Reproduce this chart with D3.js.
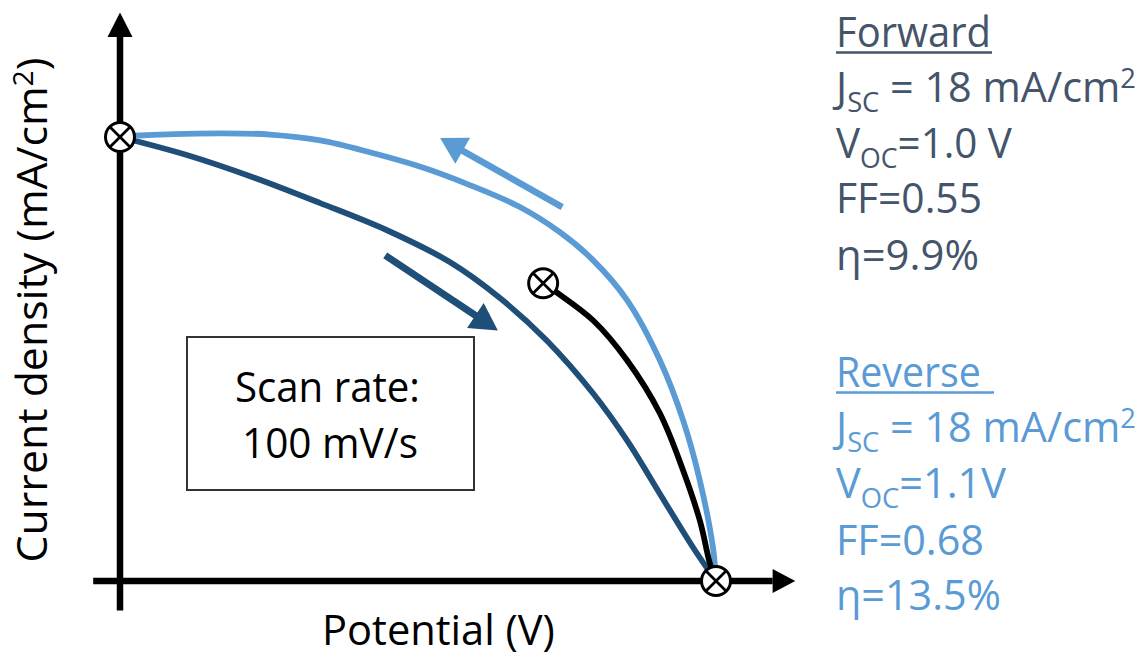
<!DOCTYPE html>
<html><head><meta charset="utf-8">
<script src="https://cdn.jsdelivr.net/npm/d3@7"></script>
<style>html,body{margin:0;padding:0;background:#fff;} svg{display:block}</style>
</head><body>
<svg id="c" width="1148" height="657"></svg>
<script>
// ---------------- data (potential in V, normalized; current density in mA/cm2) -------------
const reverseV = [0, 0.022, 0.168, 0.252, 0.336, 0.419, 0.503, 0.587, 0.671, 0.738, 0.794, 0.851, 0.906, 0.945, 0.973, 0.995, 1.0];
const reverseJ = [18.0, 18.05, 18.15, 18.1, 17.86, 17.38, 16.8, 16.05, 15.16, 14.14, 13.0, 11.38, 8.94, 6.5, 4.06, 1.34, 0];
const forwardV = [0, 0.112, 0.223, 0.336, 0.448, 0.554, 0.638, 0.716, 0.794, 0.851, 0.906, 0.961, 1.0];
const forwardJ = [18, 17.27, 16.37, 15.32, 14.22, 12.92, 11.46, 9.75, 7.6, 5.69, 3.53, 1.38, 0];
const blackV = [0.710, 0.735, 0.794, 0.851, 0.906, 0.945, 0.973, 0.990, 1.0];
const blackJ = [12.07, 11.66, 10.56, 8.94, 6.79, 4.47, 2.44, 0.69, 0];
const markerV = [0, 0.710, 1.0];
const markerJ = [18, 12.07, 0];
// scan-direction arrows: [tailV, tailJ, tipV, tipJ]
const forwardArrow = [0.445, 13.2, 0.634, 10.16];
const reverseArrow = [0.742, 15.16, 0.537, 17.96];

const xLabel = "Potential (V)";
const yLabel = "Current density (mA/cm^{2})";
const boxLines = ["Scan rate:", "100 mV/s"];
const forwardLines = ["Forward", "J_{SC} = 18 mA/cm^{2}", "V_{OC}=1.0 V", "FF=0.55", "η=9.9%"];
const reverseLines = ["Reverse", "J_{SC} = 18 mA/cm^{2}", "V_{OC}=1.1V", "FF=0.68", "η=13.5%"];

// ---------------- layout ----------------
const FONT = "'Open Sans','Noto Sans',sans-serif";
const FS = 41.5;
const C_FWD = "#1F4E79", C_REV = "#5B9BD5", C_FWD_TXT = "#44546A";
const forwardW = [155, 300, 176, 146, 143];
const reverseW = [145, 300, 170, 148, 165];
const forwardBase = [47, 102, 158, 213, 270];
const reverseBase = [387, 442, 498, 555, 610];

const svg = d3.select("#c");
const x = d3.scaleLinear().domain([0, 1]).range([120, 716]);
const y = d3.scaleLinear().domain([0, 18]).range([581, 137]);

function richText(parent, str, color, size) {
  const t = parent.append("text").attr("font-family", FONT).attr("font-size", size).attr("fill", color);
  const re = /([_^])\{([^}]*)\}/g;
  let last = 0, m, shift = 0;
  while ((m = re.exec(str))) {
    if (m.index > last) { t.append("tspan").attr("dy", -shift).text(str.slice(last, m.index)); shift = 0; }
    const d = m[1] === "_" ? 10 : -14;
    t.append("tspan").attr("font-size", size * 0.66).attr("dy", d - shift).text(m[2]);
    shift = d; last = re.lastIndex;
  }
  if (last < str.length) t.append("tspan").attr("dy", -shift).text(str.slice(last));
  return t;
}
function fitText(t, target, pre) {
  const w = t.node().getComputedTextLength();
  t.attr("transform", pre + ` scale(${target / w},1)`);
}

// ---------------- axes ----------------
const ax = svg.append("g").attr("stroke", "#000").attr("stroke-width", 6.5);
ax.append("line").attr("x1", x(0)).attr("x2", x(0)).attr("y1", y(-1.2)).attr("y2", y(22.2));
ax.append("line").attr("x1", x(-0.045)).attr("x2", x(1.095)).attr("y1", y(0)).attr("y2", y(0));
svg.append("path").attr("fill", "#000")
  .attr("d", `M${x(0)},${y(23.05)} L${x(0) - 12.5},${y(22.05)} L${x(0) + 12.5},${y(22.05)} Z`);
svg.append("path").attr("fill", "#000")
  .attr("d", `M${x(1.133)},${y(0)} L${x(1.095)},${y(0) - 12} L${x(1.095)},${y(0) + 12} Z`);

// ---------------- curves ----------------
const line = d3.line().x(d => x(d[0])).y(d => y(d[1])).curve(d3.curveCatmullRom.alpha(0.5));
function curve(V, J, color) {
  svg.append("path").datum(V.map((v, i) => [v, J[i]])).attr("d", line)
    .attr("fill", "none").attr("stroke", color).attr("stroke-width", 5.8).attr("stroke-linecap", "round");
}
curve(forwardV, forwardJ, C_FWD);
curve(reverseV, reverseJ, C_REV);
curve(blackV, blackJ, "#000");

// ---------------- arrows ----------------
function arrow(a, color, w, len, hw) {
  const x0 = x(a[0]), y0 = y(a[1]), x1 = x(a[2]), y1 = y(a[3]);
  const dx = x1 - x0, dy = y1 - y0, L = Math.hypot(dx, dy), ux = dx / L, uy = dy / L;
  const bx = x1 - ux * len, by = y1 - uy * len;
  svg.append("line").attr("x1", x0).attr("y1", y0).attr("x2", bx + ux * 2).attr("y2", by + uy * 2)
    .attr("stroke", color).attr("stroke-width", w);
  svg.append("path").attr("fill", color)
    .attr("d", `M${x1},${y1} L${bx - uy * hw},${by + ux * hw} L${bx + uy * hw},${by - ux * hw} Z`);
}
arrow(forwardArrow, C_FWD, 7, 27, 15);
arrow(reverseArrow, C_REV, 6.5, 26, 15);

// ---------------- markers ----------------
const mk = svg.append("g").selectAll("g").data(markerV.map((v, i) => [v, markerJ[i]])).join("g")
  .attr("transform", d => `translate(${x(d[0])},${y(d[1])})`);
mk.append("circle").attr("r", 14.5).attr("fill", "#fff").attr("stroke", "#000").attr("stroke-width", 3);
const q = 14.5 * Math.SQRT1_2;
mk.append("path").attr("d", `M${-q},${-q}L${q},${q}M${-q},${q}L${q},${-q}`).attr("stroke", "#000").attr("stroke-width", 2.8);

// ---------------- box ----------------
svg.append("rect").attr("x", 187).attr("y", 337).attr("width", 287).attr("height", 153)
  .attr("fill", "#fff").attr("stroke", "#333").attr("stroke-width", 2);
fitText(richText(svg, boxLines[0], "#000", FS), 185, "translate(235,402)");
fitText(richText(svg, boxLines[1], "#000", FS), 176, "translate(242,458)");

// ---------------- axis labels ----------------
fitText(richText(svg, xLabel, "#000", FS), 233, "translate(322,645)");
const yl = richText(svg, yLabel, "#000", FS).attr("text-anchor", "middle");
fitText(yl, 505, "translate(47,310) rotate(-90)");

// ---------------- parameter text ----------------
function block(lines, widths, bases, color, ulW) {
  lines.forEach((s, i) => {
    fitText(richText(svg, s, color, FS), widths[i], `translate(836,${bases[i]})`);
  });
  svg.append("line").attr("x1", 836).attr("x2", 836 + ulW).attr("y1", bases[0] + 5.5).attr("y2", bases[0] + 5.5)
    .attr("stroke", color).attr("stroke-width", 2.5);
}
block(forwardLines, forwardW, forwardBase, C_FWD_TXT, 156);
block(reverseLines, reverseW, reverseBase, C_REV, 158);
</script>
</body></html>
